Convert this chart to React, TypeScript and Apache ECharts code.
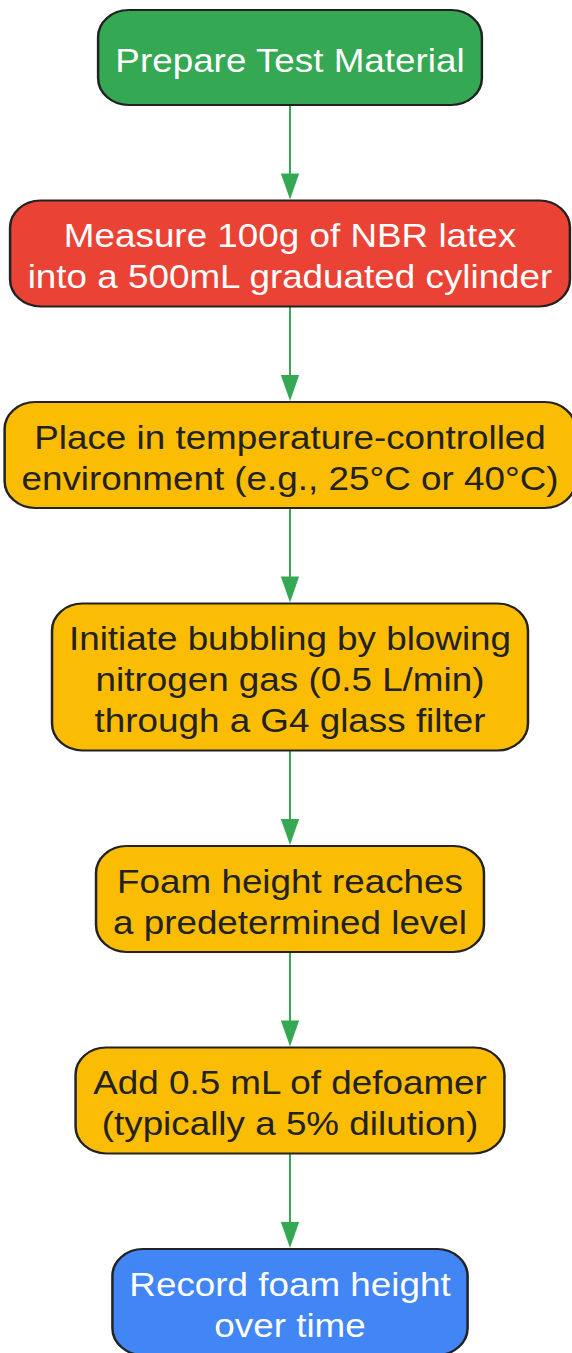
import React, { useEffect, useRef } from "react";
import * as echarts from "echarts";

// ---- data ----
const stepLabels: string[] = [
  "Prepare Test Material",
  "Measure 100g of NBR latex\ninto a 500mL graduated cylinder",
  "Place in temperature-controlled\nenvironment (e.g., 25°C or 40°C)",
  "Initiate bubbling by blowing\nnitrogen gas (0.5 L/min)\nthrough a G4 glass filter",
  "Foam height reaches\na predetermined level",
  "Add 0.5 mL of defoamer\n(typically a 5% dilution)",
  "Record foam height\nover time",
];
const stepKinds: string[] = ["start", "measure", "process", "process", "process", "process", "end"];
const edgesFrom: number[] = [0, 1, 2, 3, 4, 5];
const edgesTo: number[] = [1, 2, 3, 4, 5, 6];

// ---- styles ----
const kindFill: Record<string, string> = {
  start: "#34A853",
  measure: "#EA4335",
  process: "#FBBC04",
  end: "#4285F4",
};
const kindText: Record<string, string> = {
  start: "#FFFFFF",
  measure: "#FFFFFF",
  process: "#222222",
  end: "#FFFFFF",
};
const FONT = '"Liberation Sans", Arial, Helvetica, sans-serif';
const FS = 32.6;
const LH = 41;
const SX = 1.13;
const CX = 290;
const TOP = 10;
const GAP = 95.5;
const PADX = 15;
const PADY = 12;
const MINH = 95;
const RADIUS = 27;
const EDGE = "#34A853";
const BORDER = "#222222";

function measure(text: string): number {
  const c = document.createElement("canvas").getContext("2d");
  if (!c) return text.length * FS * 0.5;
  c.font = `${FS}px ${FONT}`;
  return Math.max(...text.split("\n").map((l) => c.measureText(l).width));
}

export default function App() {
  const ref = useRef<HTMLDivElement>(null);
  useEffect(() => {
    document.body.style.margin = "0";
    if (!ref.current) return;
    const chart = echarts.init(ref.current, undefined, { renderer: "svg" });

    const boxes: { top: number; h: number; w: number }[] = [];
    let y = TOP;
    stepLabels.forEach((label) => {
      const lines = label.split("\n").length;
      const h = Math.max(MINH, lines * LH + 2 * PADY);
      const w = measure(label) + 2 * PADX;
      boxes.push({ top: y, h, w });
      y += h + GAP;
    });

    const children: any[] = [];
    edgesFrom.forEach((f, i) => {
      const a = boxes[f];
      const b = boxes[edgesTo[i]];
      const y1 = a.top + a.h;
      const y2 = b.top;
      children.push({
        type: "line",
        shape: { x1: 0, y1, x2: 0, y2: y2 - 24 },
        style: { stroke: EDGE, lineWidth: 1.8 },
      });
      children.push({
        type: "polygon",
        shape: { points: [[-8.1, y2 - 27], [8.1, y2 - 27], [0, y2 - 1]] },
        style: { fill: EDGE },
      });
    });
    stepLabels.forEach((label, i) => {
      const b = boxes[i];
      const kind = stepKinds[i];
      children.push({
        type: "rect",
        shape: { x: -b.w / 2, y: b.top, width: b.w, height: b.h, r: RADIUS },
        style: { fill: kindFill[kind], stroke: BORDER, lineWidth: 2.2 },
      });
      children.push({
        type: "text",
        x: 0,
        y: b.top + b.h / 2 + 3,
        style: {
          text: label,
          fill: kindText[kind],
          font: `${FS}px ${FONT}`,
          fontSize: FS,
          fontFamily: FONT,
          align: "center",
          verticalAlign: "middle",
          textAlign: "center",
          textVerticalAlign: "middle",
          lineHeight: LH,
        },
      });
    });

    chart.setOption({
      animation: false,
      backgroundColor: "#FFFFFF",
      graphic: [
        {
          type: "group",
          x: CX,
          y: 0,
          scaleX: SX,
          scaleY: 1,
          children,
        },
      ],
    });
    return () => chart.dispose();
  }, []);
  return <div ref={ref} style={{ width: 572, height: 1353 }} />;
}
